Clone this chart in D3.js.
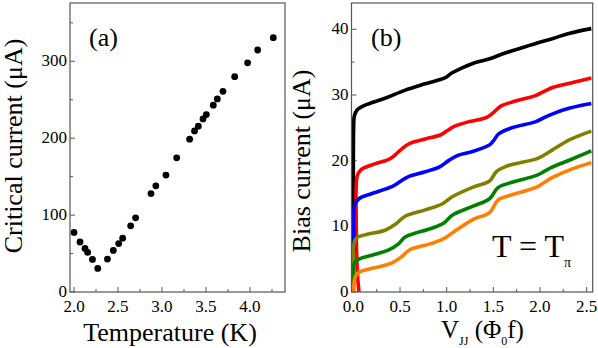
<!DOCTYPE html>
<html>
<head>
<meta charset="utf-8">
<script src="https://cdn.jsdelivr.net/npm/d3@7"></script>
<style>
  body { margin: 0; background: #fff; }
  svg text { font-family: "Liberation Serif", "DejaVu Serif", serif; fill: #000; }
</style>
</head>
<body>
<svg id="chart" width="598" height="348" font-family="Liberation Serif, serif"></svg>
<script>
// panel (a): critical current vs temperature
var tempK = [2.0, 2.068, 2.125, 2.155, 2.21, 2.27, 2.38, 2.447, 2.508, 2.553, 2.644, 2.70,
  2.875, 2.93, 3.045, 3.167, 3.314, 3.37, 3.413, 3.466, 3.504, 3.583, 3.629, 3.693,
  3.826, 3.973, 4.087, 4.265]
var critCurrent = [77.5, 65, 56.7, 51.5, 42.4, 30.7, 42.8, 54, 63, 70, 86, 96.5,
  128, 138, 152, 174.5, 198.7, 209.5, 215.6, 225, 230.7, 243, 251, 261,
  280, 298, 314.7, 330.7]
var tempTicks = [2.0, 2.5, 3.0, 3.5, 4.0]
var critTicks = [0, 100, 200, 300]

// panel (b): I-V curves, [V (Phi0 f), I (uA)]
var ivBlack = [[0, 0], [0, 20], [0.003, 25], [0.01, 26.8], [0.04, 27.7], [0.12, 28.4], [0.34, 29.5],
  [0.55, 30.7], [0.77, 31.7], [0.98, 32.6], [1.05, 33.3], [1.16, 34.1], [1.28, 34.8], [1.46, 35.5],
  [1.61, 36.3], [1.79, 37.1], [1.97, 37.9], [2.14, 38.6], [2.32, 39.4], [2.55, 40.1]]
var ivRed = [[0.06, 0], [0.045, 2.5], [0.035, 6], [0.03, 12], [0.03, 16], [0.04, 17.6],
  [0.08, 18.6], [0.23, 19.5], [0.38, 20.2], [0.45, 20.9], [0.52, 21.8], [0.6, 22.6], [0.77, 23.3],
  [0.93, 23.9], [1.0, 24.5], [1.08, 25.2], [1.23, 25.9], [1.43, 26.6], [1.5, 27.3], [1.58, 28.3],
  [1.72, 29.0], [1.95, 29.9], [2.05, 30.6], [2.15, 31.2], [2.32, 31.8], [2.55, 32.6]]
var ivBlue = [[0.01, 6], [0.005, 9], [0.005, 12], [0.015, 13.3], [0.06, 14.2], [0.2, 15.0],
  [0.42, 16.1], [0.5, 16.8], [0.58, 17.5], [0.77, 18.3], [0.93, 19.1], [1.02, 20.0], [1.12, 20.8],
  [1.28, 21.4], [1.46, 22.4], [1.5, 23.0], [1.56, 24.1], [1.7, 25.0], [1.95, 25.9], [2.05, 26.6],
  [2.15, 27.2], [2.32, 28.0], [2.55, 28.7]]
var ivOlive = [[0, 0], [0, 5], [0.005, 7.2], [0.03, 8.2], [0.125, 8.7], [0.34, 9.4], [0.45, 10.3],
  [0.55, 11.5], [0.77, 12.5], [0.95, 13.4], [1.06, 14.5], [1.29, 16.0], [1.46, 16.9], [1.53, 18.3],
  [1.63, 19.1], [1.97, 20.3], [2.05, 20.9], [2.13, 21.6], [2.32, 23.2], [2.55, 24.5]]
var ivGreen = [[0, 0], [0, 3], [0.01, 4.4], [0.06, 5.0], [0.2, 5.6], [0.38, 6.4], [0.48, 7.3],
  [0.56, 8.4], [0.84, 9.7], [0.97, 10.5], [1.06, 11.7], [1.29, 13.1], [1.46, 14.2], [1.55, 15.9],
  [1.7, 16.7], [1.97, 17.8], [2.05, 18.4], [2.13, 19.0], [2.32, 20.1], [2.55, 21.5]]
var ivOrange = [[0, 0], [0.005, 1.2], [0.02, 2.3], [0.06, 3.0], [0.2, 3.6], [0.41, 4.4], [0.52, 5.4],
  [0.6, 6.4], [0.84, 7.4], [0.98, 8.2], [1.1, 9.4], [1.29, 11.1], [1.46, 12.1], [1.55, 14.0],
  [1.7, 14.8], [1.97, 16.0], [2.05, 16.7], [2.13, 17.4], [2.32, 18.6], [2.55, 19.7]]
var ivSeries = [ivBlack, ivRed, ivBlue, ivOlive, ivGreen, ivOrange]
var ivColors = ['#000000', '#ff0000', '#0000ff', '#808000', '#008000', '#ff8000']
var voltTicks = [0.0, 0.5, 1.0, 1.5, 2.0, 2.5]
var biasTicks = [0, 10, 20, 30, 40]

var svg = d3.select('#chart')
var frameColor = '#555'

function drawFrame(x0, x1, y0, y1) {
    svg.append('rect')
        .attr('x', x0).attr('y', y0)
        .attr('width', x1 - x0).attr('height', y1 - y0)
        .attr('fill', 'none')
        .attr('stroke', frameColor)
        .attr('stroke-width', 1.2)
}

function drawAxes(xScale, yScale, xMajor, xMinor, yMajor, yMinor, xFmt, yFmt) {
    var xr = xScale.range(), yr = yScale.range()
    var g = svg.append('g')
    // ticks pointing inward
    xMajor.concat(xMinor).forEach(function (v, i) {
        var len = i < xMajor.length ? 5 : 3
        g.append('line')
            .attr('x1', xScale(v)).attr('x2', xScale(v))
            .attr('y1', yr[0]).attr('y2', yr[0] - len)
            .attr('stroke', frameColor)
    })
    yMajor.concat(yMinor).forEach(function (v, i) {
        var len = i < yMajor.length ? 5 : 3
        g.append('line')
            .attr('x1', xr[0]).attr('x2', xr[0] + len)
            .attr('y1', yScale(v)).attr('y2', yScale(v))
            .attr('stroke', frameColor)
    })
    xMajor.forEach(function (v) {
        g.append('text')
            .attr('x', xScale(v)).attr('y', yr[0] + 20)
            .attr('text-anchor', 'middle')
            .style('font-size', '17px')
            .text(xFmt(v))
    })
    yMajor.forEach(function (v) {
        g.append('text')
            .attr('x', xr[0] - 3).attr('y', yScale(v) + 5)
            .attr('text-anchor', 'end')
            .style('font-size', '17px')
            .text(yFmt(v))
    })
}

// ---------- panel (a)
var xScaleA = d3.scaleLinear().domain([1.9545, 4.398]).range([70, 285])
var yScaleA = d3.scaleLinear().domain([0, 375.8]).range([292, 3])
drawAxes(xScaleA, yScaleA, tempTicks, [2.25, 2.75, 3.25, 3.75, 4.25], critTicks, [50, 150, 250, 350],
    d3.format('.1f'), d3.format('d'))

svg.append('g').selectAll('circle')
    .data(tempK)
    .enter()
    .append('circle')
    .attr('cx', function (d) { return xScaleA(d) })
    .attr('cy', function (d, i) { return yScaleA(critCurrent[i]) })
    .attr('r', 3.4)
    .attr('fill', '#000')
drawFrame(70, 285, 3, 292)

svg.append('text').attr('x', 89).attr('y', 46).style('font-size', '26px').text('(a)')
svg.append('text')
    .attr('x', 170).attr('y', 341)
    .attr('text-anchor', 'middle')
    .style('font-size', '26px')
    .text('Temperature (K)')
svg.append('text')
    .attr('transform', 'translate(22, 146) rotate(-90)')
    .attr('text-anchor', 'middle')
    .style('font-size', '26px')
    .text('Critical current (\u03bcA)')

// ---------- panel (b)
var xScaleB = d3.scaleLinear().domain([-0.02, 2.565]).range([351.5, 592.7])
var yScaleB = d3.scaleLinear().domain([0, 44]).range([292, 3])
drawAxes(xScaleB, yScaleB, voltTicks, [0.25, 0.75, 1.25, 1.75, 2.25], biasTicks, [5, 15, 25, 35],
    d3.format('.1f'), d3.format('d'))

svg.append('clipPath').attr('id', 'clipB')
    .append('rect').attr('x', 351.5).attr('y', 3).attr('width', 241.2).attr('height', 289)

var ivLine = d3.line()
    .x(function (d) { return xScaleB(d[0]) })
    .y(function (d) { return yScaleB(d[1]) })
    .curve(d3.curveCatmullRom.alpha(0.5))

svg.append('g').attr('clip-path', 'url(#clipB)')
    .selectAll('path')
    .data(ivSeries)
    .enter()
    .append('path')
    .attr('d', ivLine)
    .attr('fill', 'none')
    .attr('stroke', function (d, i) { return ivColors[i] })
    .attr('stroke-width', 3.6)
    .attr('stroke-linejoin', 'round')
drawFrame(351.5, 592.7, 3, 292)

svg.append('text').attr('x', 371).attr('y', 46).style('font-size', '26px').text('(b)')
var tLabel = svg.append('text').attr('x', 492).attr('y', 257).style('font-size', '32px')
tLabel.append('tspan').text('T = T')
tLabel.append('tspan').attr('dy', 10).style('font-size', '14px').text('\u03c0')

var vLabel = svg.append('text').attr('x', 441).attr('y', 338).style('font-size', '25px')
vLabel.append('tspan').text('V')
vLabel.append('tspan').attr('dy', 7).style('font-size', '12px').text('JJ')
vLabel.append('tspan').attr('dy', -7).text(' (\u03a6')
vLabel.append('tspan').attr('dy', 7).style('font-size', '12px').text('0')
vLabel.append('tspan').attr('dy', -7).text('f)')
svg.append('text')
    .attr('transform', 'translate(310, 161) rotate(-90)')
    .attr('text-anchor', 'middle')
    .style('font-size', '26px')
    .text('Bias current (\u03bcA)')
</script>
</body>
</html>
